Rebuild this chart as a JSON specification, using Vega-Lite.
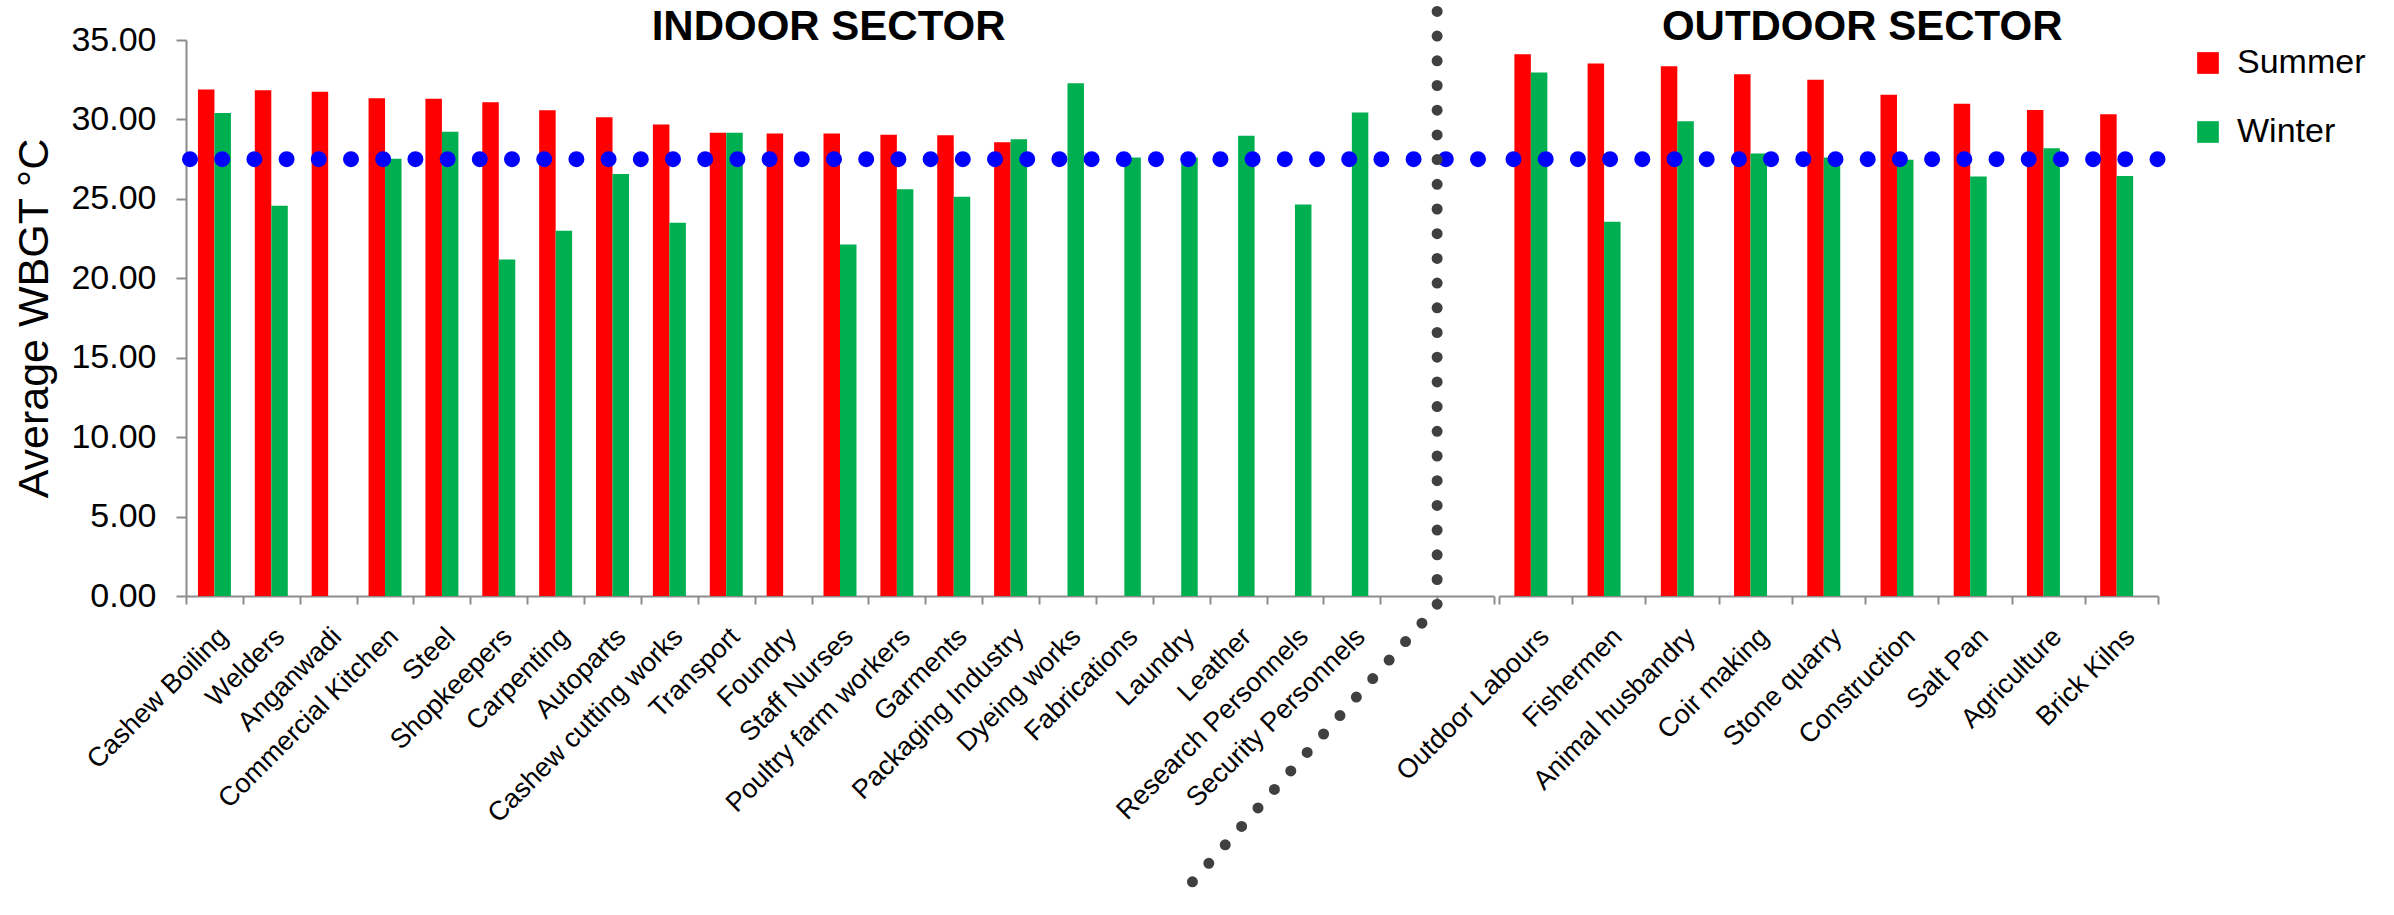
{
  "$schema": "https://vega.github.io/schema/vega-lite/v6.json",
  "background": "white",
  "padding": {"left": 13, "top": 5, "right": 5, "bottom": 0},
  "bounds": "flush",
  "spacing": 5,
  "config": {
    "view": {"stroke": null},
    "font": "Liberation Sans",
    "axis": {"grid": false}
  },
  "datasets": {
    "wbgt": [
      {"sector": "Indoor", "occupation": "Cashew Boiling", "season": "Summer", "wbgt": 31.88},
      {"sector": "Indoor", "occupation": "Cashew Boiling", "season": "Winter", "wbgt": 30.40},
      {"sector": "Indoor", "occupation": "Welders", "season": "Summer", "wbgt": 31.83},
      {"sector": "Indoor", "occupation": "Welders", "season": "Winter", "wbgt": 24.56},
      {"sector": "Indoor", "occupation": "Anganwadi", "season": "Summer", "wbgt": 31.75},
      {"sector": "Indoor", "occupation": "Commercial Kitchen", "season": "Summer", "wbgt": 31.33},
      {"sector": "Indoor", "occupation": "Commercial Kitchen", "season": "Winter", "wbgt": 27.53},
      {"sector": "Indoor", "occupation": "Steel", "season": "Summer", "wbgt": 31.30},
      {"sector": "Indoor", "occupation": "Steel", "season": "Winter", "wbgt": 29.23},
      {"sector": "Indoor", "occupation": "Shopkeepers", "season": "Summer", "wbgt": 31.08},
      {"sector": "Indoor", "occupation": "Shopkeepers", "season": "Winter", "wbgt": 21.19},
      {"sector": "Indoor", "occupation": "Carpenting", "season": "Summer", "wbgt": 30.58},
      {"sector": "Indoor", "occupation": "Carpenting", "season": "Winter", "wbgt": 22.99},
      {"sector": "Indoor", "occupation": "Autoparts", "season": "Summer", "wbgt": 30.13},
      {"sector": "Indoor", "occupation": "Autoparts", "season": "Winter", "wbgt": 26.56},
      {"sector": "Indoor", "occupation": "Cashew cutting works", "season": "Summer", "wbgt": 29.68},
      {"sector": "Indoor", "occupation": "Cashew cutting works", "season": "Winter", "wbgt": 23.49},
      {"sector": "Indoor", "occupation": "Transport", "season": "Summer", "wbgt": 29.16},
      {"sector": "Indoor", "occupation": "Transport", "season": "Winter", "wbgt": 29.16},
      {"sector": "Indoor", "occupation": "Foundry", "season": "Summer", "wbgt": 29.11},
      {"sector": "Indoor", "occupation": "Staff Nurses", "season": "Summer", "wbgt": 29.11},
      {"sector": "Indoor", "occupation": "Staff Nurses", "season": "Winter", "wbgt": 22.12},
      {"sector": "Indoor", "occupation": "Poultry farm workers", "season": "Summer", "wbgt": 29.03},
      {"sector": "Indoor", "occupation": "Poultry farm workers", "season": "Winter", "wbgt": 25.61},
      {"sector": "Indoor", "occupation": "Garments", "season": "Summer", "wbgt": 29.01},
      {"sector": "Indoor", "occupation": "Garments", "season": "Winter", "wbgt": 25.14},
      {"sector": "Indoor", "occupation": "Packaging Industry", "season": "Summer", "wbgt": 28.56},
      {"sector": "Indoor", "occupation": "Packaging Industry", "season": "Winter", "wbgt": 28.76},
      {"sector": "Indoor", "occupation": "Dyeing works", "season": "Winter", "wbgt": 32.28},
      {"sector": "Indoor", "occupation": "Fabrications", "season": "Winter", "wbgt": 27.61},
      {"sector": "Indoor", "occupation": "Laundry", "season": "Winter", "wbgt": 27.61},
      {"sector": "Indoor", "occupation": "Leather", "season": "Winter", "wbgt": 28.98},
      {"sector": "Indoor", "occupation": "Research Personnels", "season": "Winter", "wbgt": 24.64},
      {"sector": "Indoor", "occupation": "Security Personnels", "season": "Winter", "wbgt": 30.43},
      {"sector": "Outdoor", "occupation": "Outdoor Labours", "season": "Summer", "wbgt": 34.10},
      {"sector": "Outdoor", "occupation": "Outdoor Labours", "season": "Winter", "wbgt": 32.95},
      {"sector": "Outdoor", "occupation": "Fishermen", "season": "Summer", "wbgt": 33.52},
      {"sector": "Outdoor", "occupation": "Fishermen", "season": "Winter", "wbgt": 23.56},
      {"sector": "Outdoor", "occupation": "Animal husbandry", "season": "Summer", "wbgt": 33.35},
      {"sector": "Outdoor", "occupation": "Animal husbandry", "season": "Winter", "wbgt": 29.88},
      {"sector": "Outdoor", "occupation": "Coir making", "season": "Summer", "wbgt": 32.85},
      {"sector": "Outdoor", "occupation": "Coir making", "season": "Winter", "wbgt": 27.86},
      {"sector": "Outdoor", "occupation": "Stone quarry", "season": "Summer", "wbgt": 32.50},
      {"sector": "Outdoor", "occupation": "Stone quarry", "season": "Winter", "wbgt": 27.61},
      {"sector": "Outdoor", "occupation": "Construction", "season": "Summer", "wbgt": 31.55},
      {"sector": "Outdoor", "occupation": "Construction", "season": "Winter", "wbgt": 27.46},
      {"sector": "Outdoor", "occupation": "Salt Pan", "season": "Summer", "wbgt": 30.98},
      {"sector": "Outdoor", "occupation": "Salt Pan", "season": "Winter", "wbgt": 26.41},
      {"sector": "Outdoor", "occupation": "Agriculture", "season": "Summer", "wbgt": 30.60},
      {"sector": "Outdoor", "occupation": "Agriculture", "season": "Winter", "wbgt": 28.18},
      {"sector": "Outdoor", "occupation": "Brick Kilns", "season": "Summer", "wbgt": 30.32},
      {"sector": "Outdoor", "occupation": "Brick Kilns", "season": "Winter", "wbgt": 26.44}
    ],
    "threshold": [{"threshold": 27.5}],
    "divider": [
      {"pt": 1, "slot": 22, "wbgt": 36.8},
      {"pt": 2, "slot": 22, "wbgt": -0.63},
      {"pt": 3, "slot": 17.43, "wbgt": -19.07}
    ],
    "indoorTitle": [{"label": "INDOOR SECTOR"}],
    "outdoorTitle": [{"label": "OUTDOOR SECTOR"}]
  },
  "hconcat": [
    {
      "width": 1308,
      "height": 556,
      "layer": [
        {
          "data": {"name": "wbgt"},
          "transform": [{"filter": "datum.sector === 'Indoor'"}],
          "mark": {"type": "bar"},
          "encoding": {
            "x": {
              "field": "occupation", "type": "nominal",
              "scale": {"domain": ["Cashew Boiling","Welders","Anganwadi","Commercial Kitchen","Steel","Shopkeepers","Carpenting","Autoparts","Cashew cutting works","Transport","Foundry","Staff Nurses","Poultry farm workers","Garments","Packaging Industry","Dyeing works","Fabrications","Laundry","Leather","Research Personnels","Security Personnels"," ","  "], "paddingInner": 0.42, "paddingOuter": 0.21},
              "axis": {"orient": "bottom", "title": null, "ticks": false, "domain": false, "labelAngle": -45, "labelAlign": "right", "labelBaseline": "top", "labelFontSize": 27, "labelColor": "black", "labelPadding": 27, "labelDx": -4, "labelLimit": 500, "labelOverlap": false, "labelBound": false}
            },
            "xOffset": {"field": "season", "scale": {"domain": ["Summer", "Winter"]}},
            "y": {
              "field": "wbgt", "type": "quantitative",
              "scale": {"domain": [0, 35], "nice": false},
              "axis": {"orient": "left", "title": "Average WBGT °C", "titleFontSize": 43, "titleFontWeight": "normal", "titleColor": "black", "titlePadding": 14, "values": [0,5,10,15,20,25,30,35], "format": ".2f", "labelFontSize": 34, "labelColor": "black", "labelPadding": 20, "tickSize": 10, "tickColor": "#8c8c8c", "tickWidth": 2, "domainColor": "#8c8c8c", "domainWidth": 2}
            },
            "color": {
              "field": "season", "type": "nominal",
              "scale": {"domain": ["Summer", "Winter"], "range": ["#FF0000", "#00B050"]},
              "legend": {"title": null, "orient": "right", "offset": 19, "padding": 6, "symbolType": "square", "symbolSize": 470, "symbolStrokeWidth": 0, "labelFontSize": 34, "labelColor": "black", "labelOffset": 12, "rowPadding": 35}
            }
          }
        },
        {
          "data": {"name": "threshold"},
          "mark": {"type": "rule", "color": "#0000FF", "strokeWidth": 16, "strokeDash": [0, 32.2], "strokeCap": "round", "strokeDashOffset": 28.2},
          "encoding": {
            "x": {"datum": 0, "type": "quantitative", "scale": {"domain": [0, 23], "nice": false, "zero": false},
              "axis": {"orient": "bottom", "title": null, "values": [0,1,2,3,4,5,6,7,8,9,10,11,12,13,14,15,16,17,18,19,20,21,22,23], "labels": false, "ticks": true, "tickSize": 8, "tickColor": "#8c8c8c", "tickWidth": 2, "domain": true, "domainColor": "#8c8c8c", "domainWidth": 2}},
            "x2": {"datum": 23},
            "y": {"field": "threshold", "type": "quantitative"}
          }
        },
        {
          "data": {"name": "divider"},
          "mark": {"type": "line", "color": "#404040", "strokeWidth": 11, "strokeDash": [0, 24.7], "strokeCap": "round", "strokeJoin": "round", "clip": false},
          "encoding": {
            "x": {"field": "slot", "type": "quantitative", "scale": {"domain": [0, 23], "nice": false, "zero": false}, "axis": null},
            "y": {"field": "wbgt", "type": "quantitative"},
            "order": {"field": "pt", "type": "quantitative"}
          }
        },
        {
          "data": {"name": "indoorTitle"},
          "mark": {"type": "text", "fontSize": 42, "fontWeight": "bold", "color": "black", "align": "center", "baseline": "alphabetic"},
          "encoding": {
            "x": {"datum": 11.3, "type": "quantitative", "scale": {"domain": [0, 23], "nice": false, "zero": false}, "axis": null},
            "y": {"datum": 35, "type": "quantitative"},
            "text": {"field": "label", "type": "nominal"}
          }
        }
      ],
      "resolve": {"scale": {"x": "independent"}, "axis": {"x": "independent"}}
    },
    {
      "width": 659,
      "height": 556,
      "layer": [
        {
          "data": {"name": "wbgt"},
          "transform": [{"filter": "datum.sector === 'Outdoor'"}],
          "mark": {"type": "bar"},
          "encoding": {
            "x": {
              "field": "occupation", "type": "nominal",
              "scale": {"domain": ["Outdoor Labours","Fishermen","Animal husbandry","Coir making","Stone quarry","Construction","Salt Pan","Agriculture","Brick Kilns"], "paddingInner": 0.42, "paddingOuter": 0.21},
              "axis": {"orient": "bottom", "title": null, "ticks": false, "domain": false, "labelAngle": -45, "labelAlign": "right", "labelBaseline": "top", "labelFontSize": 27, "labelColor": "black", "labelPadding": 27, "labelDx": -4, "labelLimit": 500, "labelOverlap": false, "labelBound": false}
            },
            "xOffset": {"field": "season", "scale": {"domain": ["Summer", "Winter"]}},
            "y": {"field": "wbgt", "type": "quantitative", "scale": {"domain": [0, 35], "nice": false}, "axis": null},
            "color": {
              "field": "season", "type": "nominal",
              "scale": {"domain": ["Summer", "Winter"], "range": ["#FF0000", "#00B050"]},
              "legend": {"title": null, "orient": "right", "offset": 19, "padding": 6, "symbolType": "square", "symbolSize": 470, "symbolStrokeWidth": 0, "labelFontSize": 34, "labelColor": "black", "labelOffset": 12, "rowPadding": 35}
            }
          }
        },
        {
          "data": {"name": "threshold"},
          "mark": {"type": "rule", "color": "#0000FF", "strokeWidth": 16, "strokeDash": [0, 32.2], "strokeCap": "round", "strokeDashOffset": 17.7},
          "encoding": {
            "x": {"datum": 0, "type": "quantitative", "scale": {"domain": [0, 9], "nice": false, "zero": false},
              "axis": {"orient": "bottom", "title": null, "values": [0,1,2,3,4,5,6,7,8,9], "labels": false, "ticks": true, "tickSize": 8, "tickColor": "#8c8c8c", "tickWidth": 2, "domain": true, "domainColor": "#8c8c8c", "domainWidth": 2}},
            "x2": {"datum": 9},
            "y": {"field": "threshold", "type": "quantitative", "axis": null}
          }
        },
        {
          "data": {"name": "outdoorTitle"},
          "mark": {"type": "text", "fontSize": 42, "fontWeight": "bold", "color": "black", "align": "center", "baseline": "alphabetic"},
          "encoding": {
            "x": {"datum": 4.96, "type": "quantitative", "scale": {"domain": [0, 9], "nice": false, "zero": false}, "axis": null},
            "y": {"datum": 35, "type": "quantitative", "axis": null},
            "text": {"field": "label", "type": "nominal"}
          }
        }
      ],
      "resolve": {"scale": {"x": "independent"}, "axis": {"x": "independent"}}
    }
  ]
}
